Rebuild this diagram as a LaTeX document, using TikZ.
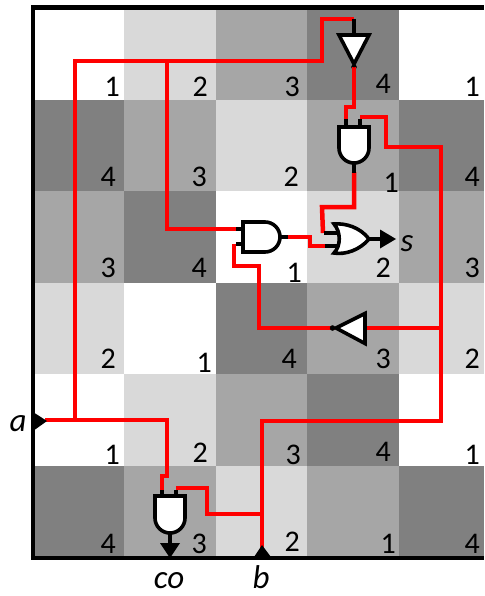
\documentclass[tikz,border=0pt]{standalone}
\usepackage{fontspec}
\setmainfont{Carlito}
\definecolor{c1}{HTML}{FFFFFF}
\definecolor{c2}{HTML}{D9D9D9}
\definecolor{c3}{HTML}{A6A6A6}
\definecolor{c4}{HTML}{808080}
\definecolor{wirered}{HTML}{FF0000}
\tikzset{
  cell/.style={fill=#1,draw=none},
  num/.style={anchor=base east,inner sep=0pt,font=\fontsize{30}{30}\selectfont,text=black},
  lab/.style={anchor=base,inner sep=0pt,font=\fontsize{33}{33}\selectfont\itshape},
  wire/.style={draw=wirered,line width=4.5pt,line join=miter},
  stub/.style={draw=black,line width=4pt},
  gate/.style={draw=black,line width=3.6pt,fill=white,line join=miter},
  tip/.style={fill=black,draw=none},
  frameline/.style={draw=black,line width=4.5pt},
}
\newcommand{\gridcell}[5]{%
  \fill[cell=#5] (#1,#2) rectangle (#3,#4);}
\begin{document}
\begin{tikzpicture}[x=1pt,y=-1pt]
\useasboundingbox (0,0) rectangle (484,596);
% checkerboard
\foreach \ya/\yb/\rowa/\rowb/\rowc/\rowd/\rowe in {
  9/100/c1/c2/c3/c4/c1,
  100/191/c4/c3/c2/c3/c4,
  191/283/c3/c4/c1/c2/c3,
  283/374/c2/c1/c4/c3/c2,
  374/466/c1/c2/c3/c4/c1,
  466/556/c4/c3/c2/c3/c4}{
  \gridcell{33}{\ya}{124}{\yb}{\rowa}
  \gridcell{124}{\ya}{216}{\yb}{\rowb}
  \gridcell{216}{\ya}{307}{\yb}{\rowc}
  \gridcell{307}{\ya}{399}{\yb}{\rowd}
  \gridcell{399}{\ya}{484}{\yb}{\rowe}
}
% numbers
\node[num] (n11) at (120,97) {1}; \node[num] (n12) at (208,97) {2}; \node[num] (n13) at (300,97) {3}; \node[num] (n14) at (391,94) {4}; \node[num] (n15) at (480,97) {1};
\node[num] (n21) at (116,186) {4}; \node[num] (n22) at (207,186) {3}; \node[num] (n23) at (299,186) {2}; \node[num] (n24) at (399,192) {1}; \node[num] (n25) at (480,186) {4};
\node[num] (n31) at (116,277) {3}; \node[num] (n32) at (207,277) {4}; \node[num] (n33) at (302,282) {1}; \node[num] (n34) at (391,277) {2}; \node[num] (n35) at (480,277) {3};
\node[num] (n41) at (116,368) {2}; \node[num] (n42) at (212,372) {1}; \node[num] (n43) at (297,368) {4}; \node[num] (n44) at (391,368) {3}; \node[num] (n45) at (480,368) {2};
\node[num] (n51) at (120,464) {1}; \node[num] (n52) at (208,462) {2}; \node[num] (n53) at (301,464) {3}; \node[num] (n54) at (391,461) {4}; \node[num] (n55) at (480,464) {1};
\node[num] (n61) at (116,553) {4}; \node[num] (n62) at (207,553) {3}; \node[num] (n63) at (300,551) {2}; \node[num] (n64) at (396,553) {1}; \node[num] (n65) at (480,553) {4};
% frame
\draw[frameline] (33,558) -- (33,7.5) -- (484,7.5);
\draw[frameline] (30.75,558) -- (484,558);
% wire junctions
\coordinate (aout) at (45,420);
\coordinate (j1) at (75,420);
\coordinate (j2) at (75,61);
\coordinate (j3) at (167,61);
\coordinate (j4) at (322,61);
\coordinate (j5) at (322,19);
\coordinate (invAin) at (354,19);
\coordinate (invAout) at (354,67);
\coordinate (andAa) at (346,120);
\coordinate (andAb) at (360,117);
\coordinate (andAo) at (354,172);
\coordinate (orA) at (323,233);
\coordinate (orB) at (325,246);
\coordinate (andBa) at (236,229);
\coordinate (andBb) at (234,244);
\coordinate (andBo) at (288,237);
\coordinate (invBout) at (332,328);
\coordinate (invBin) at (364,328);
\coordinate (j6) at (441,328);
\coordinate (j7) at (441,421);
\coordinate (bin) at (262,550);
\coordinate (j8) at (262,514);
\coordinate (andCa) at (162,491);
\coordinate (andCb) at (176,488);
% wires
\draw[wire] (aout) -- (167,420) -- (167,476) -- (162,476) -- (andCa);
\draw[wire] (j1) -- (j2) -- (j4) -- (j5) -- (invAin);
\draw[wire] (j3) -- (167,229) -- (andBa);
\draw[wire] (invAout) -- (354,107) -- (346,107) -- (andAa);
\draw[wire] (andAb) -- (386,117) -- (386,147) -- (441,147) -- (j7) -- (262,421) -- (bin);
\draw[wire] (andAo) -- (354,207) -- (322,207) -- (orA);
\draw[wire] (andBo) -- (310,237) -- (310,246) -- (orB);
\draw[wire] (andBb) -- (234,266) -- (259,266) -- (259,328) -- (invBout);
\draw[wire] (invBin) -- (j6);
\draw[wire] (j8) -- (207,514) -- (207,488) -- (andCb);
% inverter A
\draw[stub] (invAin) -- (354,36);
\filldraw[black] (invAout) circle (2.5pt);
\draw[wire,line width=3.6pt] (invAout) -- (354,72);
\draw[gate] (339,35) -- (369,35) -- (354,64) -- cycle;
% AND A
\draw[stub] (346,119) -- (346,127);
\draw[stub] (360,119) -- (360,127);
\draw[stub] (354,162) -- (354,173);
\draw[gate] (339,127) -- (369,127) -- (369,148) arc[start angle=0,end angle=180,radius=15] -- cycle;
% AND B
\draw[stub] (236,229) -- (244,229);
\draw[stub] (236,244) -- (244,244);
\draw[stub] (280,237) -- (288,237);
\draw[gate] (243,222) -- (265,222) arc[start angle=-90,end angle=90,radius=15] -- (243,252) -- cycle;
% OR
\draw[stub] (324,233) -- (339,233);
\draw[stub] (325,246) -- (339,246);
\draw[stub] (368,239) -- (382,239);
\draw[gate] (334,224) .. controls (345,223) and (360,227) .. (369,239) .. controls (360,250) and (345,255) .. (334,253) .. controls (341,246) and (341,232) .. (334,224) -- cycle;
\fill[tip] (380,229.5) -- (396,239) -- (380,248.5) -- cycle;
% inverter B
\draw[wire,line width=3pt] (327,328) -- (335,328);
\filldraw[black] (332.5,328) circle (2.5pt);
\draw[gate] (336,328) -- (365,313.5) -- (365,343.5) -- cycle;
% AND C
\draw[stub] (162,490) -- (162,497);
\draw[stub] (176,490) -- (176,497);
\draw[stub] (170,532) -- (170,544);
\draw[gate] (155,496) -- (185,496) -- (185,518) arc[start angle=0,end angle=180,radius=15] -- cycle;
\coordinate (coOut) at (170,558);
\fill[tip] (160,543) -- (180,543) -- (coOut) -- cycle;
% ports
\fill[tip] (33,412) -- (47,421) -- (33,431) -- cycle;
\fill[tip] (254,557) -- (262,545) -- (271,557) -- cycle;
% labels
\node[lab] (la) at (18,431) {a};
\node[lab] (ls) at (407,251) {s};
\node[lab] (lco) at (169,588) {co};
\node[lab] (lb) at (261,588) {b};
\end{tikzpicture}
\end{document}
